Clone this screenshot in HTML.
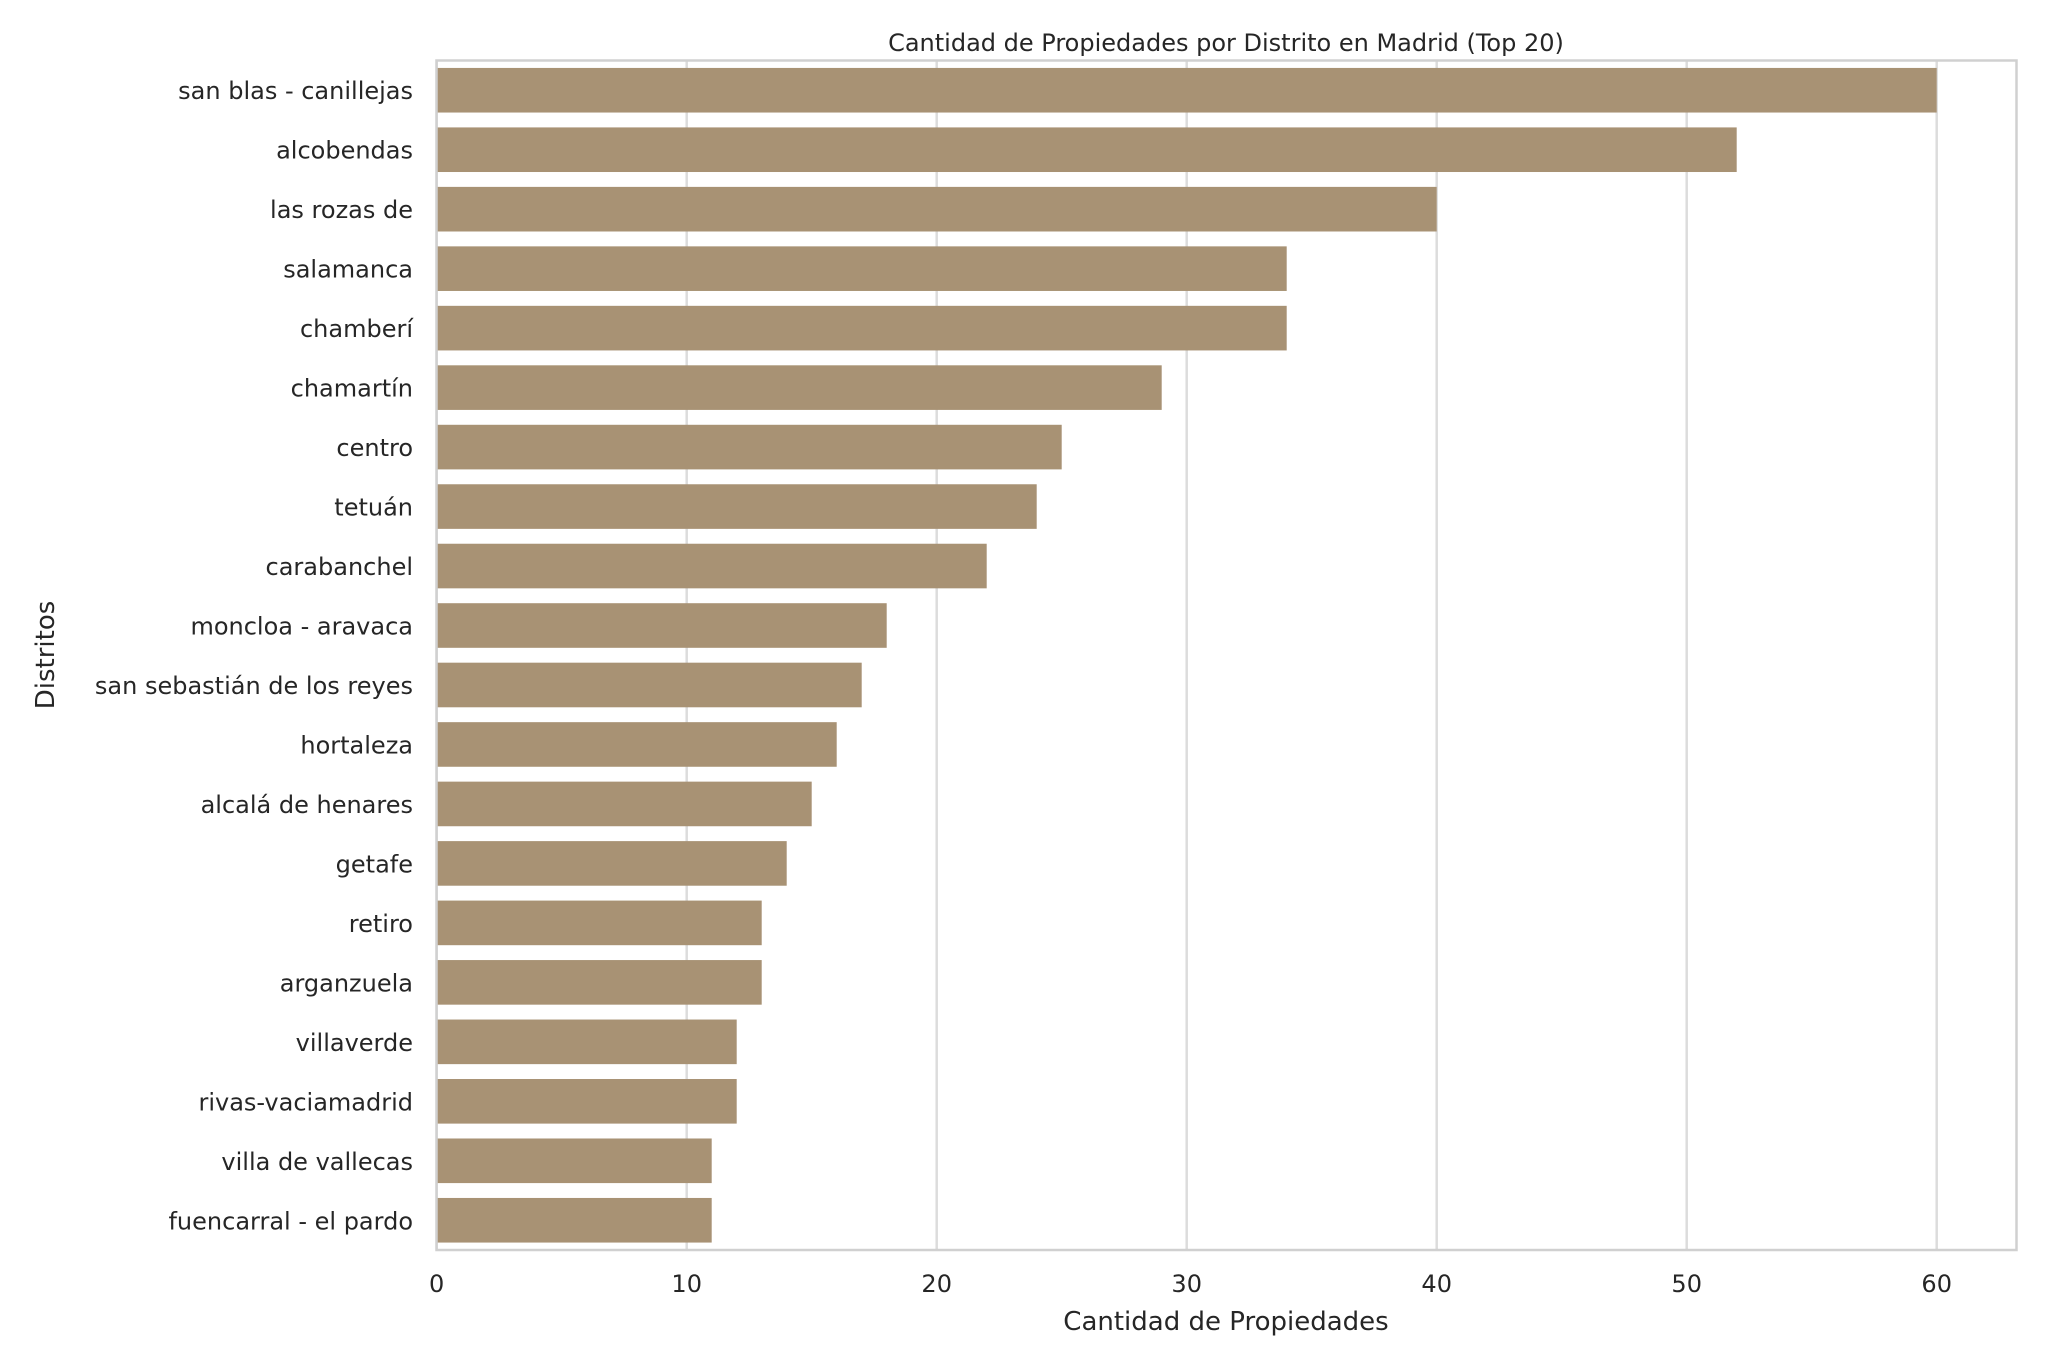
<!DOCTYPE html>
<html><head><meta charset="utf-8"><style>
body{margin:0;background:#fff;}
text{font-family:"DejaVu Sans","Liberation Sans",sans-serif;fill:#262626;}
</style></head><body>
<svg id="chart" width="2048" height="1365" xmlns="http://www.w3.org/2000/svg">
<rect width="2048" height="1365" fill="#fff"/>
<g id="grid"></g><g id="bars"></g><g id="ylabels"></g><g id="xticks"></g>
<rect x="436.5" y="60.5" width="1580" height="1189.5" fill="none" stroke="#d0d0d0" stroke-width="2.5"/>
<text x="1226" y="51" font-size="24" text-anchor="middle">Cantidad de Propiedades por Distrito en Madrid (Top 20)</text>
<text x="1226" y="1330" font-size="26" text-anchor="middle">Cantidad de Propiedades</text>
<text transform="translate(54,655) rotate(-90)" font-size="26" text-anchor="middle">Distritos</text>
</svg>
<script>
const categories=["san blas - canillejas","alcobendas","las rozas de","salamanca","chamberí","chamartín","centro","tetuán","carabanchel","moncloa - aravaca","san sebastián de los reyes","hortaleza","alcalá de henares","getafe","retiro","arganzuela","villaverde","rivas-vaciamadrid","villa de vallecas","fuencarral - el pardo"];
const values=[60,52,40,34,34,29,25,24,22,18,17,16,15,14,13,13,12,12,11,11];
const xTicks=[0,10,20,30,40,50,60];
const NS="http://www.w3.org/2000/svg";
const x0=436.7,pxPer=25.0,plotTop=60.5,plotBottom=1250,band=(plotBottom-plotTop)/categories.length;
const xs=v=>x0+v*pxPer;
const gEl=id=>document.getElementById(id);
function mk(t,a){const e=document.createElementNS(NS,t);for(const k in a)e.setAttribute(k,a[k]);return e;}
xTicks.forEach(t=>{
 const l=mk('line',{x1:xs(t),x2:xs(t),y1:plotTop,y2:plotBottom,stroke:'#dcdcdc','stroke-width':2.5});
 
 
 gEl('grid').appendChild(l);
 const tx=mk('text',{x:xs(t),y:1292,'font-size':24,'text-anchor':'middle'});
 tx.textContent=t;
 
 
 gEl('xticks').appendChild(tx);
});
categories.forEach((c,i)=>{
 const cy=plotTop+band*(i+0.5),h=band*0.75;
 const r=mk('rect',{x:xs(0),y:cy-h/2,width:xs(values[i])-xs(0),height:h,fill:'#a89274'});
 
 
 gEl('bars').appendChild(r);
 const tx=mk('text',{x:413,y:cy+9,'font-size':24,'text-anchor':'end'});
 tx.textContent=c;
 
 
 gEl('ylabels').appendChild(tx);
});
</script>
</body></html>
